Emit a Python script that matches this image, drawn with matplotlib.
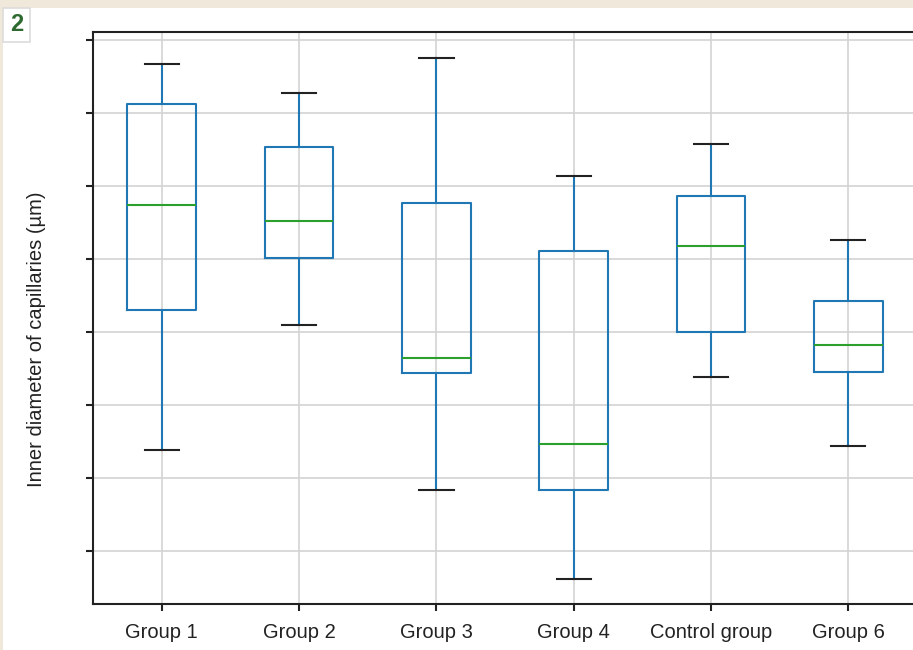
import matplotlib
matplotlib.use("Agg")
import matplotlib.pyplot as plt
from matplotlib.patches import Rectangle

plt.rcParams['font.family'] = ['Liberation Sans', 'DejaVu Sans']

# Data (arbitrary units; y tick labels hidden in the reference)
categories = ["Group 1", "Group 2", "Group 3", "Group 4", "Control group", "Group 6"]
whisker_low = [2.38, 4.10, 1.83, 0.62, 3.39, 2.44]
q1 = [4.30, 5.01, 3.44, 1.83, 4.00, 3.45]
median = [5.74, 5.52, 3.65, 2.47, 5.18, 3.82]
q3 = [7.12, 6.53, 5.77, 5.11, 5.86, 4.43]
whisker_high = [7.67, 7.28, 7.76, 6.14, 6.57, 5.26]
y_ticks = [1, 2, 3, 4, 5, 6, 7, 8]

W, H = 913, 650
fig = plt.figure(figsize=(W / 100, H / 100), dpi=100)
fig.patch.set_facecolor('#efe8db')

# white panel
fig.patches.append(Rectangle((3 / W, 0), 1, 1 - 8 / H, transform=fig.transFigure,
                             facecolor='white', edgecolor='none', zorder=-5))
# badge
fig.patches.append(Rectangle((3 / W, 1 - 42 / H), 27 / W, 34 / H, transform=fig.transFigure,
                             facecolor='white', edgecolor='#dcdcdc', linewidth=1.2, zorder=-4))
fig.text(16.5 / W, 1 - 24.5 / H, "2", color='#2e6a30', fontsize=17, fontweight='bold',
         ha='center', va='center')

left, right, top, bottom = 93, 917, 32, 604
ax = fig.add_axes([left / W, 1 - bottom / H, (right - left) / W, (bottom - top) / H])
ax.set_zorder(2)
ax.set_facecolor('white')

stats = []
for i, c in enumerate(categories):
    stats.append(dict(label=c, whislo=whisker_low[i], q1=q1[i], med=median[i],
                      q3=q3[i], whishi=whisker_high[i], fliers=[]))

ax.bxp(stats, positions=range(1, len(categories) + 1), widths=0.5, showfliers=False,
       boxprops=dict(color='#1f77b4', linewidth=1.5),
       whiskerprops=dict(color='#1f77b4', linewidth=1.5),
       capprops=dict(color='#222222', linewidth=1.5),
       medianprops=dict(color='#2ca02c', linewidth=1.5))

ax.set_xlim(0.5, 6.5)
ax.set_ylim(8 - (bottom - 40) / 73, 8 + 8 / 73)
ax.set_yticks(y_ticks)
ax.set_yticklabels([])
ax.grid(True, color='#d3d3d3', linewidth=1.2)
ax.set_axisbelow(True)
for s in ['left', 'bottom', 'top']:
    ax.spines[s].set_color('#222222')
    ax.spines[s].set_linewidth(1.5)
ax.spines['right'].set_visible(False)
ax.tick_params(axis='both', length=5, width=1.5, color='#222222')
ax.tick_params(axis='x', labelsize=14.5, pad=8.5, labelcolor='#222222')

fig.text(36 / W, 1 - 339 / H, "Inner diameter of capillaries (µm)", rotation=90,
         ha='center', va='center', fontsize=14.5, color='#222222')

fig.savefig("out.png", dpi=100, facecolor=fig.get_facecolor())
